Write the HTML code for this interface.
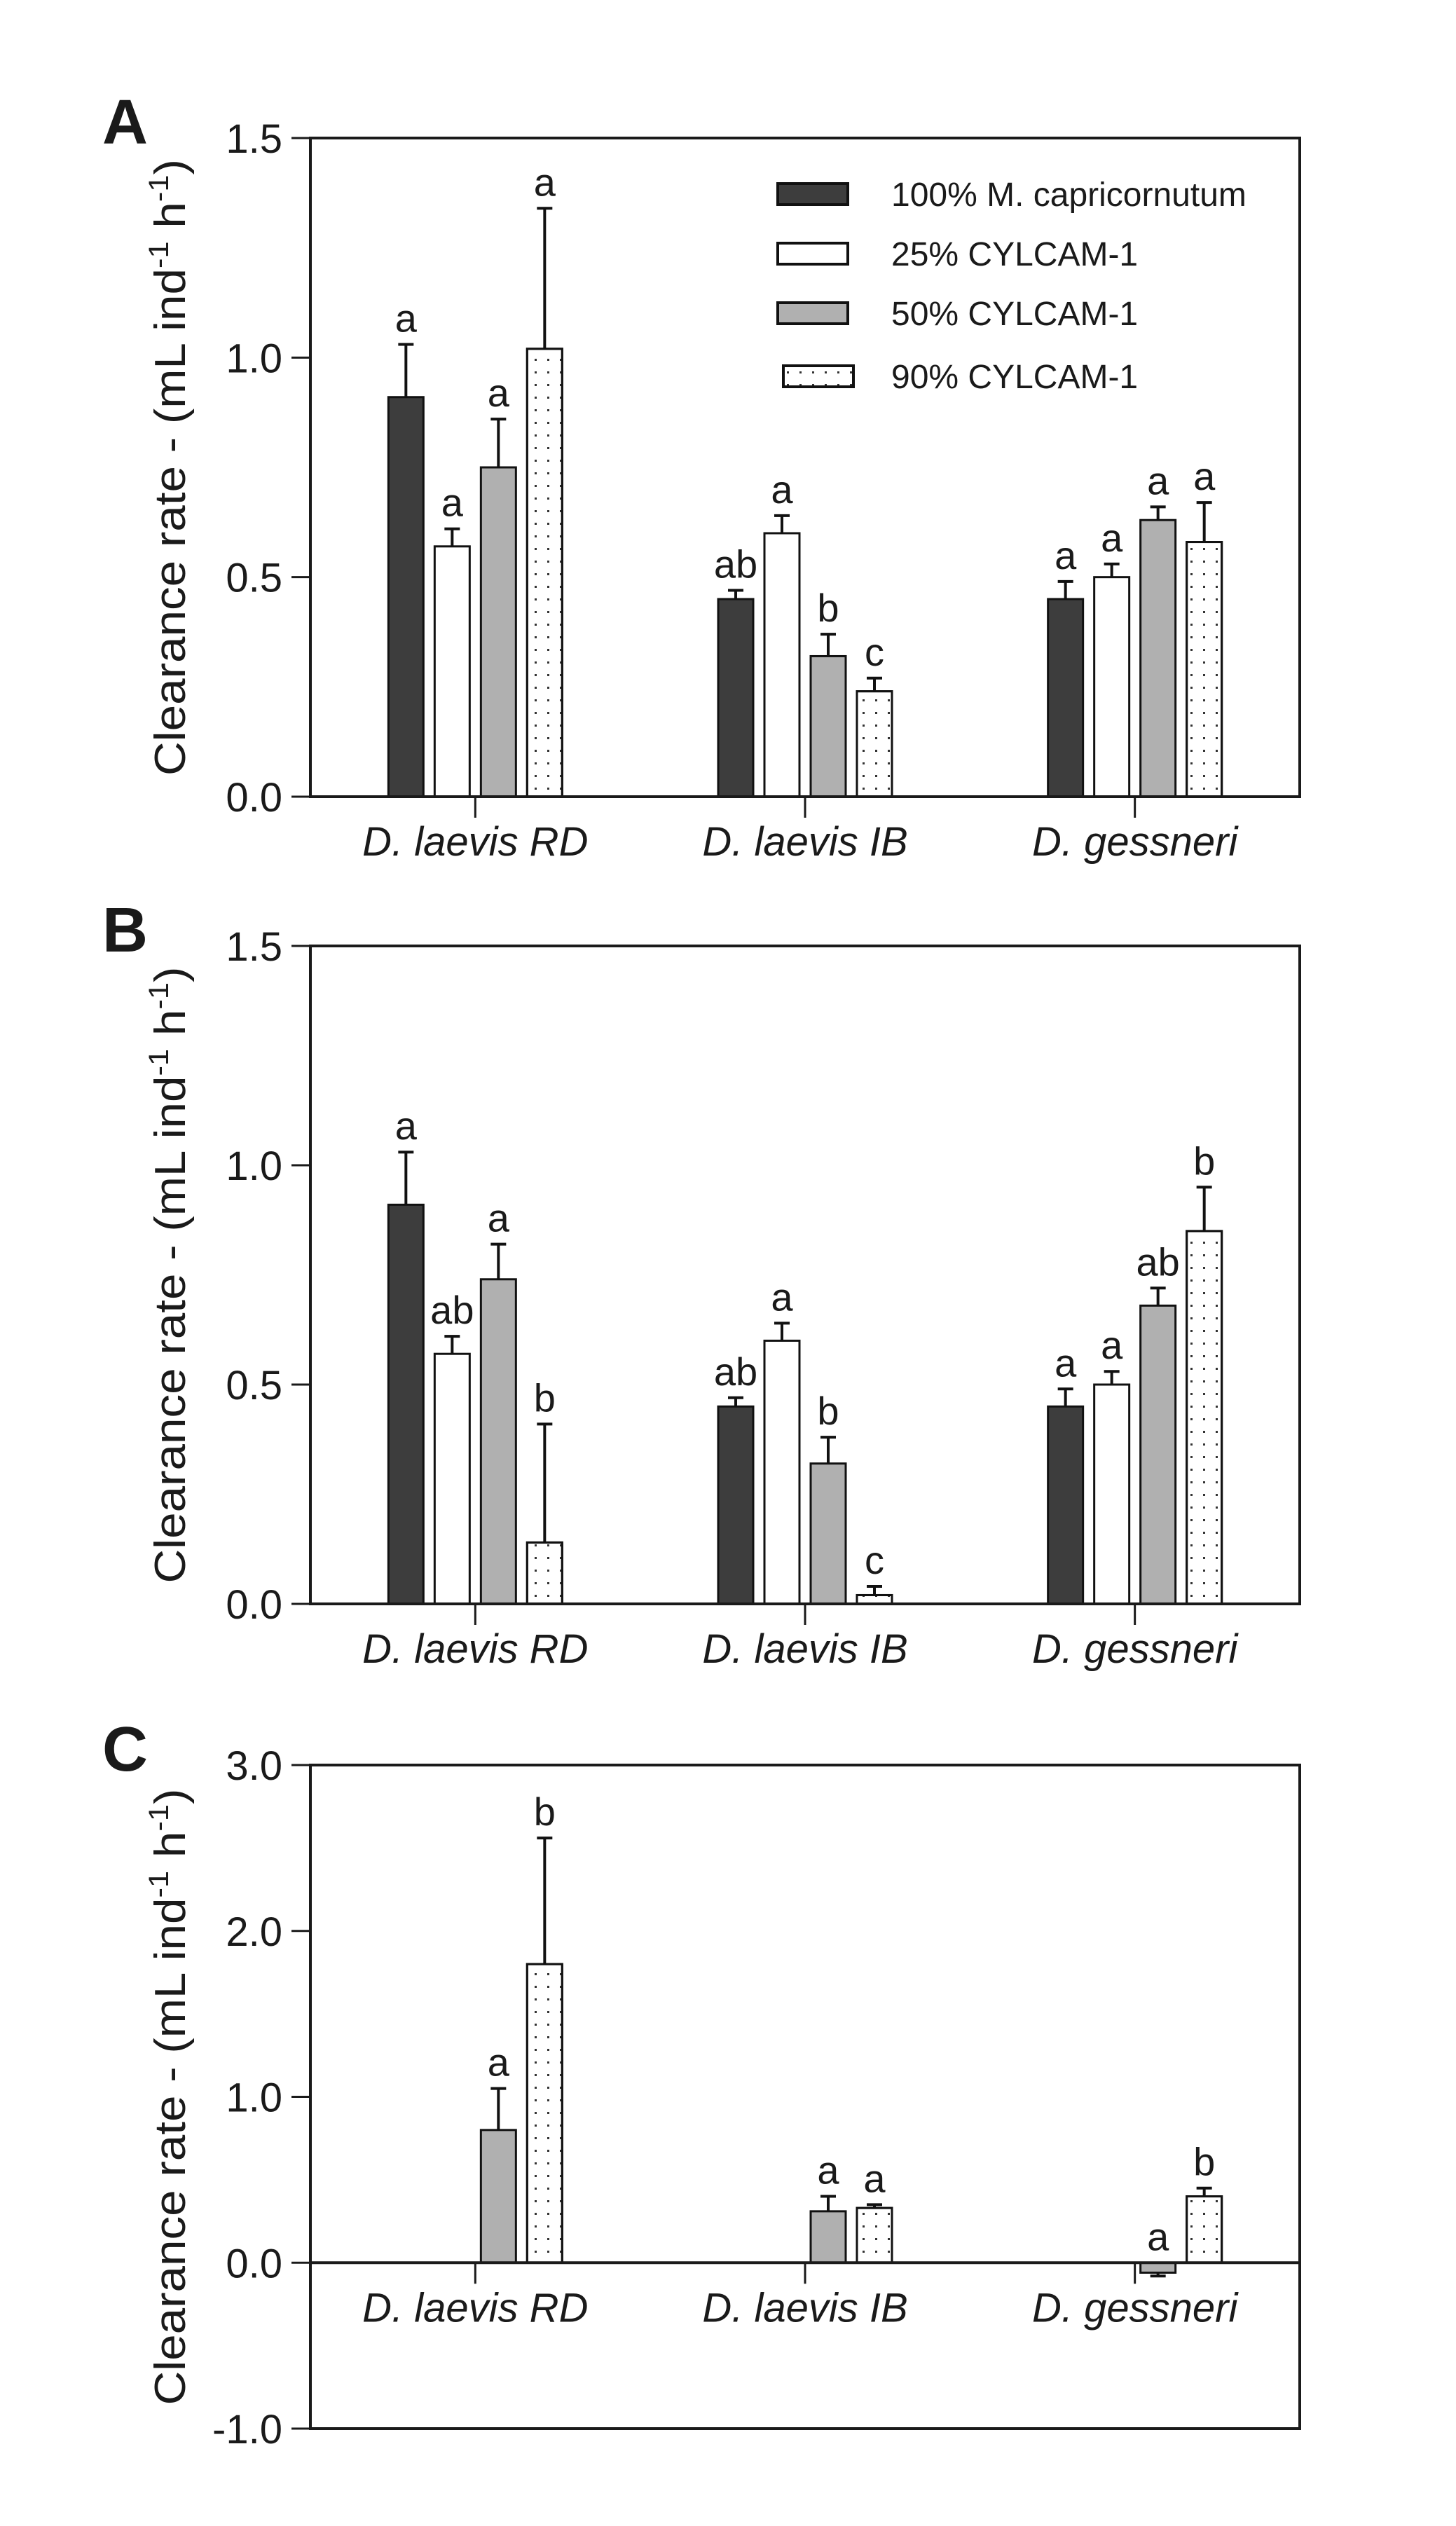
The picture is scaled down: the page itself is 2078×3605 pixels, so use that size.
<!DOCTYPE html>
<html><head><meta charset="utf-8"><style>
html,body{margin:0;padding:0;background:#fff}
svg{display:block}
.t{font-family:"Liberation Sans Narrow","Liberation Sans",sans-serif;fill:#1a1a1a}
</style></head><body>
<svg id="fig" width="2078" height="3605" viewBox="0 0 2078 3605" xmlns="http://www.w3.org/2000/svg">
<defs>
<pattern id="dots" width="18" height="36" patternUnits="userSpaceOnUse">
<rect x="7" y="8" width="3" height="3" fill="#333"/><rect x="7" y="26" width="3" height="3" fill="#333"/>
</pattern>
</defs>
</svg>
<script>
const categories = ["D. laevis RD","D. laevis IB","D. gessneri"];
const seriesNames = ["100% M. capricornutum","25% CYLCAM-1","50% CYLCAM-1","90% CYLCAM-1"];
// Panel A
const aMeans = [[0.91,0.45,0.45],[0.57,0.60,0.50],[0.75,0.32,0.63],[1.02,0.24,0.58]];
const aErr   = [[1.03,0.47,0.49],[0.61,0.64,0.53],[0.86,0.37,0.66],[1.34,0.27,0.67]];
const aLetters = [["a","ab","a"],["a","a","a"],["a","b","a"],["a","c","a"]];
// Panel B
const bMeans = [[0.91,0.45,0.45],[0.57,0.60,0.50],[0.74,0.32,0.68],[0.14,0.02,0.85]];
const bErr   = [[1.03,0.47,0.49],[0.61,0.64,0.53],[0.82,0.38,0.72],[0.41,0.04,0.95]];
const bLetters = [["a","ab","a"],["ab","a","a"],["a","b","ab"],["b","c","b"]];
// Panel C (only 50% and 90% series)
const cMeans = [null,null,[0.80,0.31,-0.06],[1.80,0.33,0.40]];
const cErr   = [null,null,[1.05,0.40,-0.08],[2.56,0.35,0.45]];
const cLetters = [null,null,["a","a","a"],["b","a","b"]];
const abTicks = ["0.0","0.5","1.0","1.5"];
const abTickVals = [0,0.5,1.0,1.5];
const cTicks = ["-1.0","0.0","1.0","2.0","3.0"];
const cTickVals = [-1,0,1,2,3];

const NS="http://www.w3.org/2000/svg";
const svg=document.getElementById('fig');
function mk(tag,attrs,parent){const e=document.createElementNS(NS,tag);for(const k in attrs)e.setAttribute(k,attrs[k]);(parent||svg).appendChild(e);return e;}
const fills=["#3d3d3d","#ffffff","#b0b0b0","url(#dots)"];

function panel(cfg){
  const g=mk('g',{});
  
  
  const L=443,R=1855,T=cfg.top,B=cfg.bottom;
  const y=v=>B-(v-cfg.min)/(cfg.max-cfg.min)*(B-T);
  const gx=i=>L+(R-L)*(2*i+1)/6;
  const bx=(gi,s)=>gx(gi)+(s-1.5)*66;
  const lt=mk('text',{x:146,y:T+8,class:'t','font-family':'Liberation Sans,sans-serif','font-weight':'bold','font-size':90},g);
  
  
  lt.textContent=cfg.id;
  // bars
  for(let s=0;s<4;s++){
    if(!cfg.means[s])continue;
    for(let gi=0;gi<3;gi++){
      const v=cfg.means[s][gi],e=cfg.err[s][gi];
      const cx=bx(gi,s),y0=y(0),yv=y(v);
      const r=mk('rect',{x:cx-25,y:Math.min(y0,yv),width:50,height:Math.abs(y0-yv),fill:fills[s],stroke:'#111','stroke-width':3},g);
      
      
      if(s===3){mk('rect',{x:cx-25,y:Math.min(y0,yv),width:50,height:Math.abs(y0-yv),fill:'none',stroke:'#111','stroke-width':3},g);}
      const ye=y(e);
      const eb=mk('path',{d:`M${cx} ${yv}V${ye}M${cx-11} ${ye}H${cx+11}`,stroke:'#111','stroke-width':4,fill:'none'},g);
      
      
      const ly=v>=0?ye-18:y(Math.max(v,e)>0?Math.max(0,v):0)-18;
      const tt=mk('text',{x:cx,y:ly,'text-anchor':'middle',class:'t','font-size':56},g);
      
      
      tt.textContent=cfg.letters[s][gi];
    }
  }
  // frame
  const fr=mk('rect',{x:L,y:T,width:R-L,height:B-T,fill:'none',stroke:'#1a1a1a','stroke-width':4},g);
  
  
  const z=y(0);
  mk('line',{x1:L,x2:R,y1:z,y2:z,stroke:'#1a1a1a','stroke-width':4},g);
  // y ticks
  cfg.tickVals.forEach((v,i)=>{
    mk('line',{x1:L-27,x2:L,y1:y(v),y2:y(v),stroke:'#1a1a1a','stroke-width':3},g);
    const t=mk('text',{x:403,y:y(v)+21,'text-anchor':'end',class:'t','font-size':58},g);
    
    
    t.textContent=cfg.ticks[i];
  });
  // x ticks/categories
  categories.forEach((c,i)=>{
    mk('line',{x1:gx(i),x2:gx(i),y1:z,y2:z+30,stroke:'#1a1a1a','stroke-width':3},g);
    const t=mk('text',{x:gx(i),y:z+84,'text-anchor':'middle',class:'t','font-size':58,'font-style':'italic'},g);
    
    
    t.textContent=c;
  });
  // y title
  const cy=(T+B)/2;
  const yt=mk('text',{x:0,y:0,transform:`translate(264 ${cy}) rotate(-90)`,'text-anchor':'middle','font-family':'Liberation Sans,sans-serif','font-size':62,fill:'#1a1a1a',textLength:880,lengthAdjust:'spacingAndGlyphs'},g);
  
  
  yt.innerHTML='Clearance rate - (mL ind<tspan dy="-24" font-size="40">-1</tspan><tspan dy="24"> h</tspan><tspan dy="-24" font-size="40">-1</tspan><tspan dy="24">)</tspan>';
}
panel({id:'A',top:197,bottom:1137,min:0,max:1.5,means:aMeans,err:aErr,letters:aLetters,ticks:abTicks,tickVals:abTickVals});
panel({id:'B',top:1350,bottom:2289,min:0,max:1.5,means:bMeans,err:bErr,letters:bLetters,ticks:abTicks,tickVals:abTickVals});
panel({id:'C',top:2519,bottom:3466,min:-1,max:3,means:cMeans,err:cErr,letters:cLetters,ticks:cTicks,tickVals:cTickVals});

// legend
const lg=mk('g',{});


const ly=[277,362,447,537];
seriesNames.forEach((n,i)=>{
  const r=mk('rect',{x:1110+(i===3?8:0),y:ly[i]-15,width:100,height:30,fill:fills[i],stroke:'#111','stroke-width':4},lg);
  
  
  const t=mk('text',{x:1272,y:ly[i]+17,class:'t','font-size':48},lg);
  
  
  t.textContent=n;
});
</script>
</body></html>
